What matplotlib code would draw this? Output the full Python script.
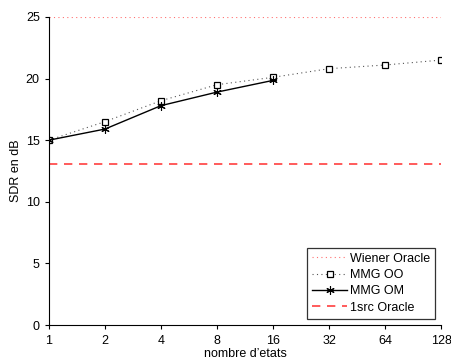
import matplotlib
matplotlib.use("Agg")
import matplotlib.pyplot as plt

plt.rcParams['font.family'] = ['Liberation Sans', 'DejaVu Sans']

states = [1, 2, 4, 8, 16, 32, 64, 128]
tick_labels = ['1', '2', '4', '8', '16', '32', '64', '128']
wiener_oracle = 25.0
mmg_oo = [15.0, 16.5, 18.2, 19.5, 20.1, 20.8, 21.1, 21.5]
states_om = [1, 2, 4, 8, 16]
mmg_om = [15.0, 15.9, 17.8, 18.9, 19.85]
src1_oracle = 13.05

fig = plt.figure(figsize=(4.52, 3.6), dpi=100)
ax = fig.add_axes([0.108, 0.097, 0.868, 0.856])

ax.plot(states, [wiener_oracle]*len(states), linestyle=(0, (1, 3)), color='#ff7070', lw=0.8, label='Wiener Oracle')
ax.plot(states, mmg_oo, linestyle=(0, (1, 3)), color='#555555', lw=0.8, marker='s', markersize=5,
        markerfacecolor='white', markeredgecolor='black', markeredgewidth=0.9, label='MMG OO')
ax.plot(states_om, mmg_om, linestyle='-', color='black', lw=1.0, marker=(6, 2, 0), markersize=6,
        markeredgewidth=0.8, label='MMG OM')
ax.plot(states, [src1_oracle]*len(states), linestyle=(0, (5, 4)), color='#ff4040', lw=1.2, label='1src Oracle')

ax.set_xscale('log', base=2)
ax.set_xlim(1, 128)
ax.set_ylim(0, 25)
ax.set_xticks(states)
ax.set_xticklabels(tick_labels)
ax.minorticks_off()
ax.set_yticks([0, 5, 10, 15, 20, 25])
ax.spines['top'].set_visible(False)
ax.spines['right'].set_visible(False)
ax.tick_params(labelsize=9, length=3, width=0.8)
ax.tick_params(axis='x', pad=4)
ax.set_xlabel('nombre d\u2019etats', fontsize=9, labelpad=1)
ax.set_ylabel('SDR en dB', fontsize=9, labelpad=3)

leg = ax.legend(loc='lower right', fontsize=9, frameon=True, fancybox=False,
                edgecolor='black', handlelength=2.8, borderpad=0.4, labelspacing=0.35,
                handletextpad=0.2, borderaxespad=0.5)
leg.get_frame().set_linewidth(0.9)

fig.savefig('out.png', dpi=100)
